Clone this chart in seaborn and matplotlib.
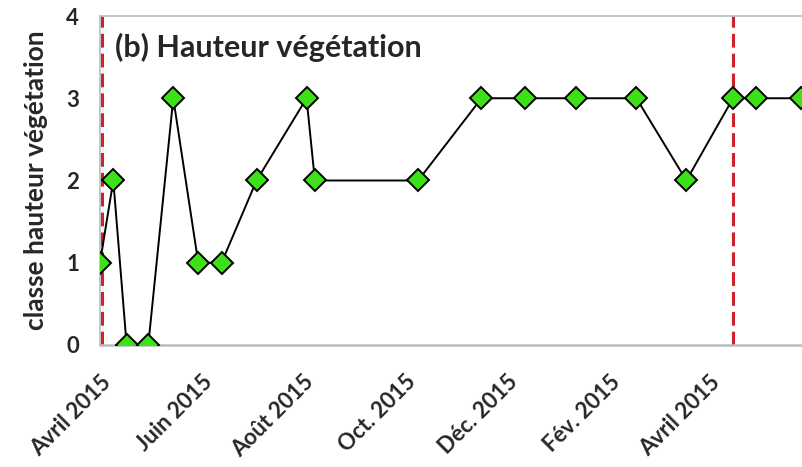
import pandas as pd
import seaborn as sns
import matplotlib.pyplot as plt

# Survey dates and vegetation height class
dates = ["2015-04-01", "2015-04-09", "2015-04-17", "2015-04-30", "2015-05-15",
         "2015-05-30", "2015-06-13", "2015-07-04", "2015-08-03", "2015-08-08",
         "2015-10-09", "2015-11-16", "2015-12-12", "2016-01-12", "2016-02-17",
         "2016-03-18", "2016-04-15", "2016-04-29", "2016-05-26"]
hauteur = [1, 2, 0, 0, 3, 1, 1, 2, 3, 2, 2, 3, 3, 3, 3, 2, 3, 3, 3]

tick_dates = ["2015-04-01", "2015-06-01", "2015-08-01", "2015-10-01",
              "2015-12-01", "2016-02-01", "2016-04-01"]
tick_labels = ["Avril 2015", "Juin 2015", "Août 2015", "Oct. 2015",
               "Déc. 2015", "Fév. 2015", "Avril 2015"]
red_lines = ["2015-04-02", "2016-04-15"]

df = pd.DataFrame({"date": pd.to_datetime(dates), "hauteur": hauteur})

sns.set_theme(style="white")
plt.rcParams["font.family"] = ["Lato", "DejaVu Sans"]
plt.rcParams["font.weight"] = "bold"

fig = plt.figure(figsize=(8.03, 4.67), dpi=100)
ax = fig.add_axes([0.1245, 0.2613, 0.8755, 0.7044])

for d in red_lines:
    ax.axvline(pd.Timestamp(d), color="#d0202a", lw=2.2, dashes=(4.5, 2), zorder=1)

sns.lineplot(data=df, x="date", y="hauteur", ax=ax, color="black", lw=1.4,
             marker="D", markersize=11, markerfacecolor="#3ee01a",
             markeredgecolor="black", markeredgewidth=1.4, zorder=3)

ax.set_xlim(pd.Timestamp("2015-04-01"), pd.Timestamp("2016-05-27"))
ax.set_ylim(0, 4)
ax.set_yticks([0, 1, 2, 3, 4])
ax.set_xticks(pd.to_datetime(tick_dates))
ax.set_xticklabels(tick_labels, rotation=45, ha="right", rotation_mode="anchor")
ax.tick_params(axis="both", length=0, labelsize=16)
ax.tick_params(axis="y", pad=15)
ax.tick_params(axis="x", pad=19)

ax.set_xlabel("")
ax.set_ylabel("classe hauteur végétation", fontsize=19, fontweight="bold", labelpad=13)
ax.text(0.022, 0.905, "(b) Hauteur végétation", transform=ax.transAxes,
        fontsize=22, fontweight="bold", va="center")

for s in ax.spines.values():
    s.set_color("#b8bcbc")
    s.set_linewidth(1.2)
ax.spines["bottom"].set_linewidth(1.8)

fig.savefig("out.png", dpi=100)
